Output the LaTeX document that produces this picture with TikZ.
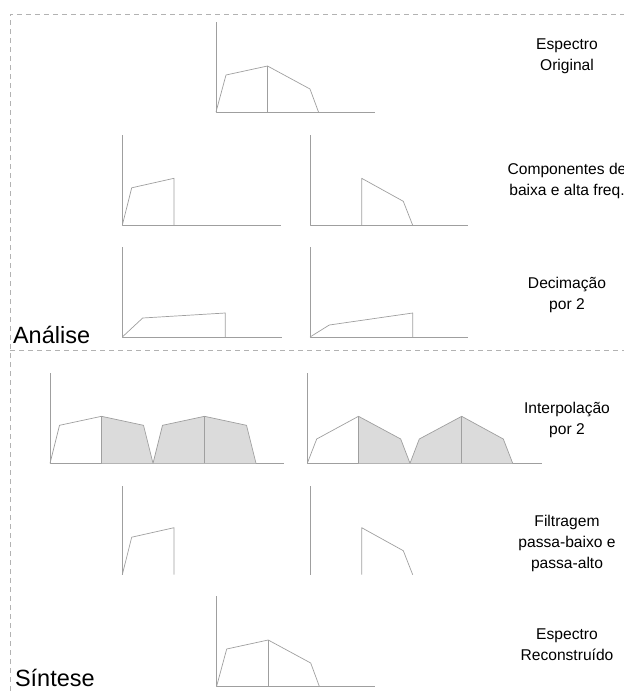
\documentclass[tikz,border=0pt]{standalone}
\usepackage{fontspec}
\setmainfont{Liberation Sans}
\usetikzlibrary{positioning}

\begin{document}
\begin{tikzpicture}[x=1pt,y=-1pt,
  spec/.style={draw=gray!75,line width=0.7pt,line join=round},
  band/.style={fill=gray!28},
  frame/.style={gray!60,line width=0.6pt,dash pattern=on 5pt off 4pt},
  lbl/.style={font=\fontsize{15.6}{21}\selectfont,align=center},
  part/.style={font=\fontsize{23.5}{28}\selectfont,anchor=base west}]
  \useasboundingbox (0,0) rectangle (624,691);
  \clip (0,0) rectangle (624,691);

  % caixas tracejadas
  \draw[frame] (10,691) -- (10,14) -- (624,14);
  \draw[frame] (10,350) -- (624,350);

  % eixos (origem x, origem y, comprimento do eixo x)
  \foreach \ox/\oy/\w in {216/112/159, 122.3/225.3/159, 310/225.3/158.3,
                           122.3/337/159.4, 310/337/158.3,
                           50/463.3/234.3, 307.3/463.3/234.4, 216.7/686/158.3}
    \draw[spec] (\ox,\oy-90) -- (\ox,\oy) -- (\ox+\w,\oy);
  \foreach \ox in {122.3,310}
    \draw[spec] (\ox,486) -- (\ox,574.7);

  % espectro original e reconstruido
  \foreach \ox/\oy in {216/112, 216.7/686} {
    \begin{scope}[shift={(\ox,\oy)}]
      \draw[spec] (0,0) -- (10,-37) -- (51.5,-46) -- (94,-23) -- (102.5,0);
      \draw[spec] (51.5,0) -- (51.5,-46);
    \end{scope}
  }

  % componentes e filtragem
  \foreach \oy in {225.3, 574.7} {
    \begin{scope}[shift={(122.3,\oy)}]
      \draw[spec] (0,0) -- (9.4,-37.5) -- (51.7,-47) -- (51.7,0);
    \end{scope}
    \begin{scope}[shift={(310,\oy)}]
      \draw[spec] (51.7,0) -- (51.7,-47) -- (93.3,-24) -- (102.7,0);
    \end{scope}
  }

  % decimacao
  \begin{scope}[shift={(122.3,337)}]
    \draw[spec] (0,0) -- (20.4,-19) -- (103,-24) -- (103,0);
  \end{scope}
  \begin{scope}[shift={(310,337)}]
    \draw[spec] (0,0) -- (19.3,-12) -- (102.7,-24) -- (102.7,0);
  \end{scope}

  % interpolacao
  \begin{scope}[shift={(50,463.3)}]
    \fill[band] (51.5,0) -- (51.5,-47) -- (93.5,-38) -- (103,0) -- (112.5,-38)
      -- (154.5,-47) -- (196.5,-38) -- (206,0) -- cycle;
    \draw[spec] (0,0) -- (9.5,-38) -- (51.5,-47) -- (93.5,-38) -- (103,0)
      -- (112.5,-38) -- (154.5,-47) -- (196.5,-38) -- (206,0);
    \draw[spec] (51.5,0) -- (51.5,-47);
    \draw[spec] (154.5,0) -- (154.5,-47);
  \end{scope}
  \begin{scope}[shift={(307.3,463.3)}]
    \fill[band] (51.2,0) -- (51.2,-47) -- (93.4,-24.3) -- (102.7,0) -- (112,-24.3)
      -- (154.4,-47) -- (196,-24.3) -- (205.4,0) -- cycle;
    \draw[spec] (0,0) -- (9.4,-24.3) -- (51.2,-47) -- (93.4,-24.3) -- (102.7,0)
      -- (112,-24.3) -- (154.4,-47) -- (196,-24.3) -- (205.4,0);
    \draw[spec] (51.2,0) -- (51.2,-47);
    \draw[spec] (154.4,0) -- (154.4,-47);
  \end{scope}

  % rotulos
  \node[lbl] (original) at (567,56.5) {Espectro\\Original};
  \node[lbl] (componentes) at (567,181) {Componentes de\\baixa e alta freq.};
  \node[lbl] (decimacao) at (567,294.5) {Decimação\\por 2};
  \node[lbl] (interpolacao) at (567,420) {Interpolação\\por 2};
  \node[lbl] (filtragem) at (567,543.5) {Filtragem\\passa-baixo e\\passa-alto};
  \node[lbl] (reconstruido) at (567,645) {Espectro\\Reconstruído};
  \node[part] (analise) at (9.5,343) {Análise};
  \node[part] (sintese) at (11.5,686) {Síntese};
\end{tikzpicture}
\end{document}
